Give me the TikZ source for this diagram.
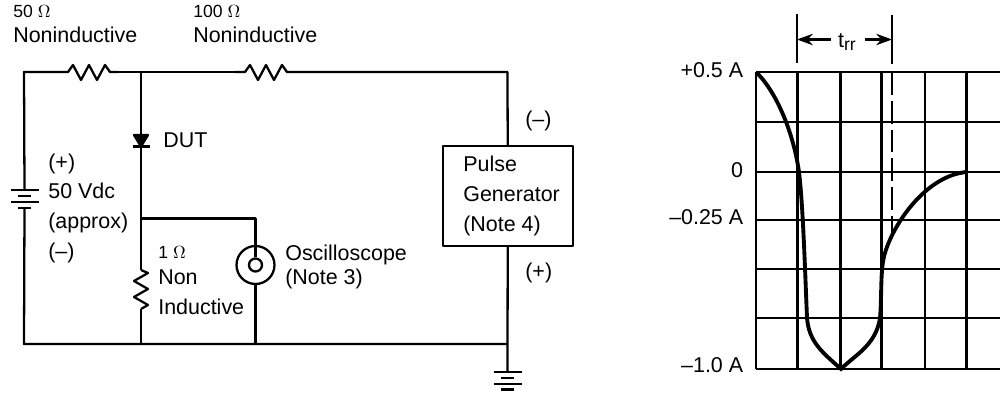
\documentclass[tikz,border=0pt]{standalone}
\usepackage{fontspec}
\setmainfont{Liberation Sans}
\usepackage{tikz}
\usetikzlibrary{arrows.meta}
\tikzset{
    wire/.style={line width=1.3pt, line join=round},
    lab/.style={inner sep=0pt, anchor=base west, font=\fontsize{12.2}{14}\selectfont},
    small/.style={inner sep=0pt, anchor=base west, font=\fontsize{10}{11}\selectfont},
    axis/.style={inner sep=0pt, anchor=base east, font=\fontsize{12.2}{14}\selectfont},
    gridline/.style={line width=1.35pt},
    pt/.style={inner sep=0pt, minimum size=0pt},
}
\begin{document}
\begin{tikzpicture}[x=0.02cm, y=-0.02cm]
        \useasboundingbox (0,0) rectangle (1000,395);

        % Nodes
        \node[pt] (TL) at (24,72) {};
        \node[pt] (R1a) at (59,72) {};
        \node[pt] (R1b) at (118,72) {};
        \node[pt] (J1) at (141,72) {};
        \node[pt] (R2a) at (235,72) {};
        \node[pt] (R2b) at (295,72) {};
        \node[pt] (TR) at (507.5,72) {};
        \node[pt] (D1) at (141,135) {};
        \node[pt] (D2) at (141,146.5) {};
        \node[pt] (J2) at (141,218.5) {};
        \node[pt] (R3a) at (141,270) {};
        \node[pt] (R3b) at (141,309) {};
        \node[pt] (J3) at (141,344) {};
        \node[pt] (BL) at (24,344) {};
        \node[pt] (J4) at (255.5,344) {};
        \node[pt] (J5) at (507.5,344) {};
        \node[pt] (BatT) at (24.5,190) {};
        \node[pt] (BatB) at (24.5,208) {};
        \node[pt] (Gnd) at (507.5,372) {};
        \node[pt] (Sc) at (255.5,218.5) {};
        \node[draw, wire, circle, inner sep=0pt, minimum size=0.76cm] (Osc) at (255.5,265) {};
        \node[draw, wire, circle, inner sep=0pt, minimum size=0.26cm, fill=white] (OscIn) at (255.5,265) {};
        \node[draw, wire, minimum width=2.6cm, minimum height=2cm, inner sep=0pt] (Pulse) at (507.7,196) {};

        % Wires
        \draw[wire] (R1a.center) -- (TL.center) -- (BatT.center);
        \draw[wire] (BatB.center) -- (BL.center) -- (J5.center);
        \draw[wire] (R1b.center) -- (R2a.center);
        \draw[wire] (R2b.center) -- (TR.center) -- (Pulse.north);
        \draw[wire] (Pulse.south) -- (Gnd.center);
        \draw[wire] (J1.center) -- (D1.center);
        \draw[wire] (D2.center) -- (R3a.center);
        \draw[wire] (R3b.center) -- (J3.center);
        \draw[wire] (J2.center) -- (Sc.center) -- (OscIn.north);
        \draw[wire] (Osc.south) -- (J4.center);

        % Resistors
        \draw[wire] (R1a.center) -- ++(9,0) -- ++(5,-7) -- ++(8,15) -- ++(8,-15) -- ++(8,15) -- ++(8,-15) -- ++(5,7) -- (R1b.center);
        \draw[wire] (R2a.center) -- ++(10,0) -- ++(5,-7) -- ++(8,15) -- ++(8,-15) -- ++(8,15) -- ++(8,-15) -- ++(5,7) -- (R2b.center);
        \draw[wire] (R3a.center) -- ++(7,3) -- ++(-14,8) -- ++(14,8) -- ++(-14,8) -- ++(14,8) -- (R3b.center);

        % Diode
        \draw[wire, fill=black] (D1.center) ++(-7,0) -- ++(14,0) -- (D2.center) -- cycle;
        \draw[wire] (D2.center) ++(-8.5,0) -- ++(17,0);

        % Battery
        \draw[wire] (BatT.center) ++(-14,0) -- ++(28,0);
        \draw[wire] (BatT.center) ++(-6.5,6) -- ++(13,0);
        \draw[wire] (BatT.center) ++(-14,12) -- ++(28,0);
        \draw[wire] (BatB.center) ++(-6.5,0) -- ++(13,0);

        % Ground
        \draw[wire] (Gnd.center) ++(-14,0) -- ++(28,0);
        \draw[wire] (Gnd.center) ++(-6.5,6) -- ++(13,0);
        \draw[wire] (Gnd.center) ++(-14,12) -- ++(28,0);
        \draw[wire] (Gnd.center) ++(-6.5,17.5) -- ++(13,0);

        % Labels
        \node[small] (l50) at (13,18) {50 $\Omega$};
        \node[lab] (lN1) at (13,43) {Noninductive};
        \node[small] (l100) at (193,18) {100 $\Omega$};
        \node[lab] (lN2) at (193,43) {Noninductive};
        \node[lab] (lDUT) at (163,147.5) {DUT};
        \node[lab] (lp) at (48,169) {(+)};
        \node[lab] (lV) at (48,198.5) {50 Vdc};
        \node[lab] (lap) at (48,228) {(approx)};
        \node[lab] (lm) at (48,258) {(–)};
        \node[small] (l1) at (158,258) {1 $\Omega$};
        \node[lab] (lNon) at (158,284) {Non};
        \node[lab] (lInd) at (158,314) {Inductive};
        \node[lab] (lOsc) at (285,260) {Oscilloscope};
        \node[lab] (lNt3) at (285,284) {(Note 3)};
        \node[lab] (lm2) at (525,127) {(–)};
        \node[lab] (lp2) at (525,278) {(+)};
        \node[lab] (lPu) at (463,171.5) {Pulse};
        \node[lab] (lGe) at (463,201.5) {Generator};
        \node[lab] (lNt4) at (463,231.5) {(Note 4)};

        % Graph grid
        \foreach \yy in {72,122,172,220,269,318,369} {
            \draw[gridline] (756,\yy) -- (1000,\yy);
        }
        \foreach \xx in {756,797.5,840.5,881.5,925,966.5} {
            \draw[gridline] (\xx,72) -- (\xx,369);
        }
        \draw[gridline, dash pattern=on 13pt off 3.4pt] (892,72) -- (892,234);

        % Graph labels
        \node[axis] (a1) at (743.5,77.5) {+0.5 A};
        \node[axis] (a2) at (743.5,177.5) {0};
        \node[axis] (a3) at (743.5,224.5) {–0.25 A};
        \node[axis] (a4) at (743.5,372) {–1.0 A};

        % Trace
        \draw[line width=2.2pt] (756,72) .. controls (775,90) and (793,130) .. (799,172)
            .. controls (803,205) and (805,270) .. (807,318)
            .. controls (809,342) and (822,352) .. (841,369)
            .. controls (855,355) and (876,345) .. (880,318)
            .. controls (882,295) and (880,268) .. (885,253)
            .. controls (893,225) and (925,176) .. (966.5,172);

        % Width marker
        \node[pt] (T1) at (797,14) {};
        \node[pt] (T2) at (797,63) {};
        \node[pt] (T3) at (892,15) {};
        \node[pt] (T4) at (892,64) {};
        \node[pt] (A1) at (797,39.5) {};
        \node[pt] (A2) at (892,39.5) {};
        \node[inner sep=0pt, font=\fontsize{12.2}{14}\selectfont] (trr) at (847,42) {t\raisebox{-0.3ex}{\fontsize{10}{11}\selectfont rr}};
        \draw[wire] (T1.center) -- (T2.center);
        \draw[wire] (T3.center) -- (T4.center);
        \draw[wire, -{Stealth[length=9pt,width=6.5pt]}] (831,39.5) -- (A1.center);
        \draw[wire, -{Stealth[length=9pt,width=6.5pt]}] (865,39.5) -- (A2.center);

    \end{tikzpicture}
\end{document}
